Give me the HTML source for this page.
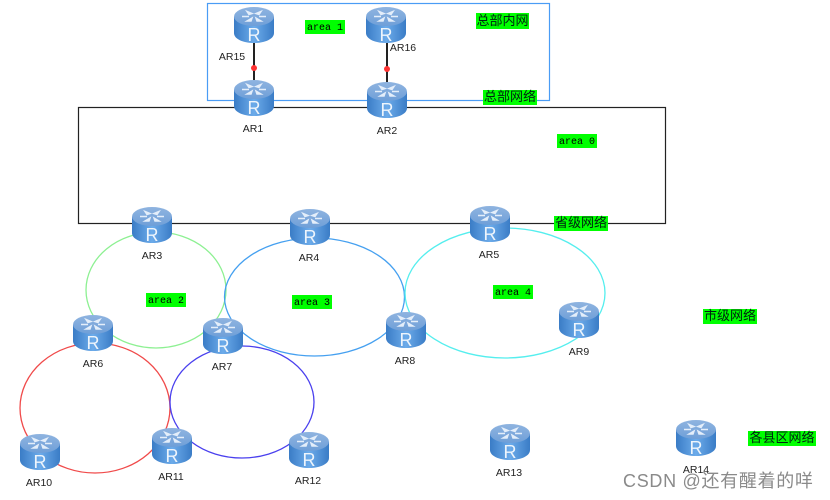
<!DOCTYPE html>
<html><head><meta charset="utf-8"><style>
html,body{margin:0;padding:0;background:#fff}
svg{display:block;filter:blur(.35px)}
.l{font:10.500px "Liberation Sans",sans-serif;fill:#222;text-anchor:middle}
.m{font:10px "Liberation Mono",monospace;fill:#000;text-anchor:middle}
.c{font:13px "Liberation Sans","Noto Sans CJK SC",sans-serif;fill:#021;text-anchor:middle}
.g{fill:#0f0}
</style></head><body>
<svg width="830" height="500" viewBox="0 0 830 500" xmlns="http://www.w3.org/2000/svg">
<defs>
<linearGradient id="b" x1="0" x2="1" y1="0" y2="0"><stop offset="0" stop-color="#3a7cc6"/><stop offset=".5" stop-color="#6cabea"/><stop offset="1" stop-color="#3a7cc6"/></linearGradient>
<linearGradient id="t" x1="0" x2="0" y1="0" y2="1"><stop offset="0" stop-color="#8fb4e0"/><stop offset="1" stop-color="#6f9fd8"/></linearGradient>
<g id="r">
<path d="M0 10V26C0 32 9 36 20 36S40 32 40 26V10Z" fill="url(#b)"/>
<ellipse cx="20" cy="9.500" rx="20" ry="9.500" fill="url(#t)"/>
<path d="M13 4.500l5 2-3 1zM27 4.500l-5 2 3 1zM13 14l5-3-1 3zM27 14l-5-3 1 3zM8 9.500h7M25 9.500h7" stroke="#e4eefa" stroke-width="1.500" fill="#e4eefa"/>
<text x="20" y="34" font-family="Liberation Sans,sans-serif" font-size="18" fill="#eef5fc" text-anchor="middle">R</text>
</g>
</defs>
<rect x="207.500" y="3.500" width="342" height="97" fill="none" stroke="#4a9cf5" stroke-width="1.200"/>
<rect x="78.500" y="107.500" width="587" height="116" fill="none" stroke="#222" stroke-width="1.200"/>
<g fill="none" stroke-width="1.300">
<ellipse cx="156" cy="290" rx="70" ry="58" stroke="#8df092"/>
<ellipse cx="314.500" cy="297" rx="90" ry="59" stroke="#45a0f0"/>
<ellipse cx="505" cy="293" rx="100" ry="65" stroke="#55eeee"/>
<ellipse cx="95" cy="408" rx="75" ry="65" stroke="#f04a4a"/>
<ellipse cx="242" cy="402" rx="72" ry="56" stroke="#4a40ee"/>
</g>
<path d="M254 42V82M387 42V84" stroke="#222" stroke-width="2"/>
<circle cx="254" cy="68" r="3" fill="#f33"/><circle cx="387" cy="69" r="3" fill="#f33"/>
<use href="#r" x="234" y="7"/><use href="#r" x="366" y="7"/><use href="#r" x="234" y="80"/><use href="#r" x="367" y="82"/>
<use href="#r" x="132" y="207"/><use href="#r" x="290" y="209"/><use href="#r" x="470" y="206"/>
<use href="#r" x="73" y="315"/><use href="#r" x="203" y="318"/><use href="#r" x="386" y="312"/><use href="#r" x="559" y="302"/>
<use href="#r" x="20" y="434"/><use href="#r" x="152" y="428"/><use href="#r" x="289" y="432"/><use href="#r" x="490" y="424"/><use href="#r" x="676" y="420"/>
<g>
<text class="l" x="232" y="60">AR15</text><text class="l" x="403" y="51">AR16</text>
<text class="l" x="253" y="132">AR1</text><text class="l" x="387" y="134">AR2</text>
<text class="l" x="152" y="259">AR3</text><text class="l" x="309" y="261">AR4</text><text class="l" x="489" y="258">AR5</text>
<text class="l" x="93" y="367">AR6</text><text class="l" x="222" y="370">AR7</text><text class="l" x="405" y="364">AR8</text><text class="l" x="579" y="355">AR9</text>
<text class="l" x="39" y="486">AR10</text><text class="l" x="171" y="480">AR11</text><text class="l" x="308" y="484">AR12</text><text class="l" x="509" y="476">AR13</text><text class="l" x="696" y="473">AR14</text>
</g>
<rect class="g" x="305" y="20" width="40" height="14"/><text class="m" x="325" y="30">area 1</text>
<rect class="g" x="557" y="134" width="40" height="14"/><text class="m" x="577" y="144">area 0</text>
<rect class="g" x="146" y="293" width="40" height="14"/><text class="m" x="166" y="303">area 2</text>
<rect class="g" x="292" y="295" width="40" height="14"/><text class="m" x="312" y="305">area 3</text>
<rect class="g" x="493" y="285" width="40" height="14"/><text class="m" x="513" y="295">area 4</text>
<rect class="g" x="476" y="13" width="53" height="16"/><text class="c" x="502.500" y="25">总部内网</text>
<rect class="g" x="483" y="90" width="54" height="15"/><text class="c" x="510" y="101">总部网络</text>
<rect class="g" x="554" y="216" width="54" height="15"/><text class="c" x="581" y="227">省级网络</text>
<rect class="g" x="703" y="309" width="54" height="15"/><text class="c" x="730" y="320">市级网络</text>
<rect class="g" x="748" y="431" width="68" height="15"/><text class="c" x="782" y="442">各县区网络</text>
<text x="623" y="487" font-family="Liberation Sans,Noto Sans CJK SC,sans-serif" font-size="18" letter-spacing=".7" fill="#8a8a8a">CSDN @还有醒着的咩</text>
</svg>
</body></html>
